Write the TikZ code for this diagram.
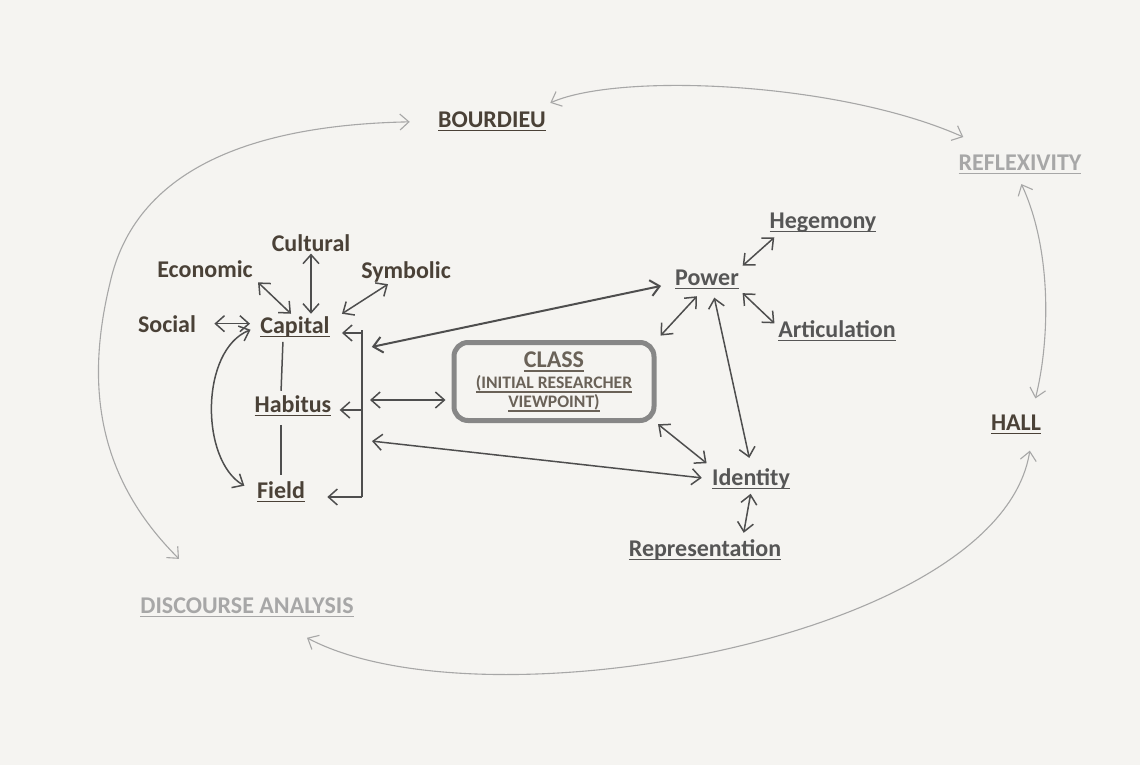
\documentclass[tikz,border=0pt]{standalone}
\usepackage{fontspec}
\setmainfont{Carlito}
\usetikzlibrary{arrows.meta}
\definecolor{paper}{HTML}{F5F4F1}
\definecolor{ink}{HTML}{4A4137}
\definecolor{slate}{HTML}{565656}
\definecolor{pale}{HTML}{A7A7A7}
\definecolor{wire}{HTML}{4E4E4E}
\definecolor{rim}{HTML}{878787}
\definecolor{boxtext}{HTML}{6A6258}
\newcommand{\ulword}[1]{\setbox0\hbox{#1}\rlap{\rule[-2.2pt]{\wd0}{0.85pt}}\box0}

\begin{document}
\begin{tikzpicture}[x=0.5pt, y=-0.5pt,
    >={Straight Barb[length=4.5pt,width=8pt]},
    lbl/.style={anchor=base, inner sep=1pt, font=\fontsize{12}{14}\selectfont\bfseries, text=ink},
    grey/.style={lbl, text=slate},
    faded/.style={lbl, text=pale},
    link/.style={<->, draw=wire, line width=0.75pt},
    bar/.style={draw=wire, line width=0.75pt},
    orbit/.style={<->, draw=pale, line width=0.55pt}]
    \fill[paper] (0,0) rectangle (1140,765);

    % outer ring
    \node[lbl] (bour) at (492,127) {\ulword{BOURDIEU}};
    \node[faded] (refl) at (1020,170) {\ulword{REFLEXIVITY}};
    \node[lbl] (hall) at (1016,430) {\ulword{HALL}};
    \node[faded] (disc) at (247,613) {\ulword{DISCOURSE ANALYSIS}};

    % Bourdieu side
    \node[lbl] (cult) at (311,251) {Cultural};
    \node[lbl] (econ) at (205,277) {Economic};
    \node[lbl] (symb) at (406,278) {Symbolic};
    \node[lbl] (soc) at (167,332) {Social};
    \node[lbl] (cap) at (295,333) {\ulword{Capital}};
    \node[lbl] (hab) at (293,412) {\ulword{Habitus}};
    \node[lbl] (fld) at (281,498) {\ulword{Field}};

    % Hall side
    \node[grey] (pow) at (707,285) {\ulword{Power}};
    \node[grey] (heg) at (823,228) {\ulword{Hegemony}};
    \node[grey] (art) at (837,337) {\ulword{Articulation}};
    \node[grey] (iden) at (751,485) {\ulword{Identity}};
    \node[grey] (rep) at (705,556) {\ulword{Representation}};

    \node[draw=rim, line width=2.5pt, rounded corners=7pt, minimum width=100pt,
        minimum height=39pt, align=center, inner sep=0pt, text=boxtext,
        font=\fontsize{8.8}{9.5}\selectfont\bfseries] (cls) at (554,381.5)
        {{\fontsize{12}{14}\selectfont\ulword{CLASS}}\\[1pt]
         \ulword{(INITIAL RESEARCHER}\\ \ulword{VIEWPOINT)}};

    % bracket
    \coordinate (brtop) at (362,333);
    \coordinate (brmid) at (362,410);
    \coordinate (brbot) at (362,497);
    \coordinate (brpow) at (362,349);
    \coordinate (brcls) at (362,400);
    \coordinate (briden) at (362,440);
    \draw[bar] ([yshift=1.5pt]brtop) -- (brbot);
    \draw[bar, ->, shorten >=5pt] (brtop) -- (brtop -| cap.east);
    \draw[bar, ->, shorten >=3pt] (brmid) -- (brmid -| hab.east);
    \draw[bar, ->, shorten >=10pt] (brbot) -- (brbot -| fld.east);

    % capital cluster
    \draw[link, shorten <=2pt] (econ.south east) -- ([xshift=-2pt]cap.north);
    \draw[link] (cult.south) -- (cult.south |- cap.north);
    \draw[link] ([xshift=-9pt]symb.south) -- ([xshift=5pt]cap.north east);
    \draw[link, shorten <=8pt, shorten >=4pt] (soc.east) -- (soc.east -| cap.west);
    \draw[bar, shorten <=1pt, shorten >=1pt] ([xshift=-6pt]cap.south) -- ([xshift=-6pt]hab.north);
    \draw[bar, shorten <=3pt, shorten >=2pt] ([xshift=-6pt]hab.south) -- (fld.north);
    \draw[link, shorten <=4pt, shorten >=6pt] (cap.west) .. controls (200,350) and (200,460) .. (fld.west);

    % across
    \draw[link, line width=1pt, shorten <=5pt, shorten >=6pt] (brpow) -- ([yshift=-2pt]pow.west);
    \draw[link, shorten <=4pt, shorten >=3pt] (brcls) -- (brcls -| cls.west);
    \draw[link, shorten <=5pt, shorten >=4pt] (briden) -- (iden.west);

    % power cluster
    \draw[link, shorten <=2pt, shorten >=1pt] ([xshift=5pt]heg.south west) -- (pow.north east);
    \draw[link, shorten <=1pt, shorten >=1pt] (pow.south east) -- ([yshift=3pt]art.west);
    \draw[link, shorten <=3pt, shorten >=3pt] ([xshift=-3pt]pow.south) -- (cls.north east);
    \draw[link, shorten <=3pt, shorten >=4pt] ([xshift=3pt]pow.south) -- (iden.north);
    \draw[link, shorten <=1pt, shorten >=2pt] (cls.south east) -- (iden.north west);
    \draw[link, shorten <=1pt, shorten >=2pt] (iden.south) -- ([xshift=19pt]rep.north);

    % ring arrows
    \draw[orbit, shorten >=13pt] ([xshift=-34pt,yshift=18pt]disc.north)
        .. controls (100,480) and (84,390) .. (110,283)
        .. controls (135,170) and (250,125) .. (bour.west);
    \draw[orbit] ([xshift=1pt,yshift=3pt]bour.north east)
        .. controls (620,72) and (840,82) .. ([xshift=3.5pt,yshift=7.5pt]refl.north west);
    \draw[orbit, shorten <=4pt, shorten >=7pt] ([xshift=-1pt]refl.south)
        .. controls (1052,250) and (1050,340) .. ([xshift=8pt]hall.north);
    \draw[orbit, shorten <=7pt] ([xshift=8pt]hall.south)
        .. controls (1000,640) and (480,730) .. ([xshift=30pt,yshift=-9pt]disc.south);
\end{tikzpicture}
\end{document}
